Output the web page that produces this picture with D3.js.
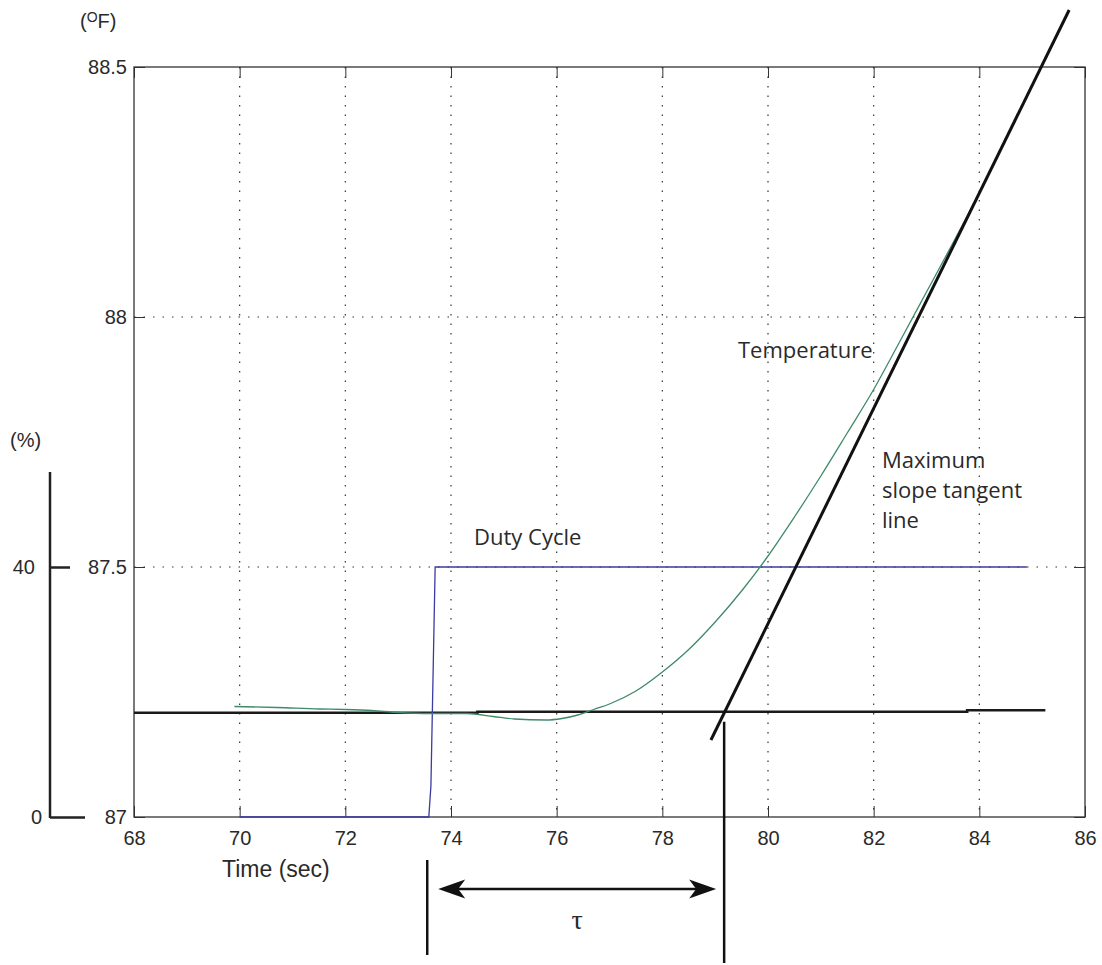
<!DOCTYPE html>
<meta charset="utf-8">
<style type="text/css">
	body { margin: 0; background: #ffffff; }
	svg text { fill: #2a2a2a; }
	.tick text { font-family: "Liberation Sans", Arial, sans-serif; font-size: 20px; }
	.note { font-family: "Open Sans", sans-serif; font-size: 22px; }
</style>
<body>
	<div id="chartCt"></div>
</body>

<script src="https://d3js.org/d3.v7.min.js"></script>
<script>
	// time axis (sec) and the two y scales (deg F left, duty % on the far left)
	const timeTicks = [68, 70, 72, 74, 76, 78, 80, 82, 84, 86];
	const tempTicks = [87, 87.5, 88, 88.5];
	const dutyTicks = [0, 40];

	// temperature response
	const tempTime = [69.9, 70.7, 71.5, 72.0, 72.5, 73.0, 73.6, 74.3, 74.8, 75.2, 75.8, 76.1, 76.4, 76.7, 77.0, 77.5, 78.0, 78.5, 79.0, 79.5, 80.0, 80.5, 81.0, 81.5, 82.0, 82.5, 83.0, 83.5, 83.9];
	const tempVal = [87.221, 87.219, 87.216, 87.215, 87.213, 87.209, 87.207, 87.207, 87.201, 87.196, 87.194, 87.197, 87.204, 87.215, 87.226, 87.252, 87.290, 87.335, 87.390, 87.452, 87.522, 87.600, 87.682, 87.768, 87.855, 87.952, 88.050, 88.148, 88.228];

	// duty cycle step (%)
	const dutyTime = [70, 73.58, 73.62, 73.7, 84.9];
	const dutyVal = [0, 0, 5, 40, 40];

	// initial steady state line
	const baseTime = [68, 74.5, 74.5, 83.77, 83.77, 85.25];
	const baseVal = [87.2086, 87.2086, 87.2105, 87.2105, 87.2135, 87.2135];

	// maximum slope tangent line
	const tanTime = [78.92, 85.7];
	const tanVal = [87.154, 88.614];

	// dead time markers
	const tauStart = 73.55;
	const tauEnd = 79.17;

	const width = 1102;
	const height = 965;
	const margin = { top: 67, left: 134, right: 17, bottom: 148 };

	const svg = d3.select("#chartCt")
		.append("svg")
		.attr("width", width)
		.attr("height", height);

	const x = d3.scaleLinear().domain([68, 86]).range([margin.left, width - margin.right]);
	const y = d3.scaleLinear().domain([87, 88.5]).range([height - margin.bottom, margin.top]);
	// 0..40 % sits on 87..87.5 F, the axis line runs a bit higher
	const yPct = d3.scaleLinear().domain([0, 40]).range([y(87), y(87.5)]);

	const grid = svg.append("g").attr("stroke", "#333").attr("stroke-width", 1.2).attr("stroke-dasharray", "1.5 8");
	grid.selectAll(".vg").data(timeTicks.slice(1, -1)).enter().append("line")
		.attr("x1", d => x(d)).attr("x2", d => x(d))
		.attr("y1", y(88.5)).attr("y2", y(87));
	grid.selectAll(".hg").data(tempTicks.slice(1, -1)).enter().append("line")
		.attr("x1", x(68)).attr("x2", x(86))
		.attr("y1", d => y(d)).attr("y2", d => y(d));

	// axes, ticks inside like matlab
	const axisStyle = g => {
		g.selectAll(".domain").remove();
		g.selectAll(".tick line").attr("stroke", "#333");
		g.selectAll(".tick text").attr("fill", "#2a2a2a");
	};
	svg.append("g").attr("transform", `translate(0,${y(87)})`)
		.call(d3.axisBottom(x).tickValues(timeTicks).tickFormat(d3.format("d")).tickSizeInner(-11).tickSizeOuter(0).tickPadding(14))
		.call(axisStyle);
	svg.append("g").attr("transform", `translate(0,${y(88.5)})`)
		.call(d3.axisTop(x).tickValues(timeTicks).tickFormat("").tickSizeInner(-11).tickSizeOuter(0))
		.call(axisStyle);
	svg.append("g").attr("transform", `translate(${x(68)},0)`)
		.call(d3.axisLeft(y).tickValues(tempTicks).tickFormat(d => d).tickSizeInner(-11).tickSizeOuter(0).tickPadding(7))
		.call(axisStyle);
	svg.append("g").attr("transform", `translate(${x(86)},0)`)
		.call(d3.axisRight(y).tickValues(tempTicks).tickFormat("").tickSizeInner(-11).tickSizeOuter(0))
		.call(axisStyle);

	svg.append("rect")
		.attr("x", x(68)).attr("y", y(88.5))
		.attr("width", x(86) - x(68)).attr("height", y(87) - y(88.5))
		.attr("fill", "none").attr("stroke", "#333").attr("stroke-width", 1.3);

	// duty cycle axis
	const pctAxis = svg.append("g").attr("transform", "translate(50,0)")
		.call(d3.axisLeft(yPct).tickValues(dutyTicks).tickSizeInner(-20).tickSizeOuter(0).tickPadding(15));
	pctAxis.select(".domain").remove();
	pctAxis.selectAll(".tick line").attr("stroke", "#222").attr("stroke-width", 2.5);
	pctAxis.selectAll(".tick").filter(d => d === 0).select("line").attr("x2", 35);
	pctAxis.selectAll(".tick").filter(d => d === 0).select("text").attr("x", -8);
	pctAxis.append("line")
		.attr("x1", 0).attr("x2", 0)
		.attr("y1", yPct(55.2)).attr("y2", yPct(0) + 1)
		.attr("stroke", "#222").attr("stroke-width", 2.5);

	const line = d3.line().x(d => x(d[0])).y(d => y(d[1]));

	svg.append("path")
		.datum(baseTime.map((t, i) => [t, baseVal[i]]))
		.attr("d", line)
		.attr("fill", "none").attr("stroke", "#1a1a1a").attr("stroke-width", 2.6);

	svg.append("path")
		.datum(dutyTime.map((t, i) => [t, dutyVal[i]]))
		.attr("d", d3.line().x(d => x(d[0])).y(d => yPct(d[1])))
		.attr("fill", "none").attr("stroke", "#3b3ba0").attr("stroke-width", 1.3);

	svg.append("path")
		.datum(tempTime.map((t, i) => [t, tempVal[i]]))
		.attr("d", d3.line().x(d => x(d[0])).y(d => y(d[1])).curve(d3.curveMonotoneX))
		.attr("fill", "none").attr("stroke", "#3f8a68").attr("stroke-width", 1.3);

	svg.append("path")
		.datum(tanTime.map((t, i) => [t, tanVal[i]]))
		.attr("d", line)
		.attr("fill", "none").attr("stroke", "#111").attr("stroke-width", 3);

	// tau markers and arrow
	svg.append("line")
		.attr("x1", x(tauStart)).attr("x2", x(tauStart))
		.attr("y1", 860).attr("y2", 955)
		.attr("stroke", "#111").attr("stroke-width", 2.5);
	svg.append("line")
		.attr("x1", x(tauEnd)).attr("x2", x(tauEnd))
		.attr("y1", y(87.2105) + 10).attr("y2", 963)
		.attr("stroke", "#111").attr("stroke-width", 2.5);

	const arrowY = 889;
	const ax1 = x(tauStart) + 11, ax2 = x(tauEnd) - 8;
	svg.append("line")
		.attr("x1", ax1 + 10).attr("x2", ax2 - 10)
		.attr("y1", arrowY).attr("y2", arrowY)
		.attr("stroke", "#111").attr("stroke-width", 2.5);
	const head = (tip, dir) => `M${tip},${arrowY} L${tip + dir * 27},${arrowY - 9.5} L${tip + dir * 20},${arrowY} L${tip + dir * 27},${arrowY + 9.5} Z`;
	svg.append("path").attr("d", head(ax1, 1)).attr("fill", "#111");
	svg.append("path").attr("d", head(ax2, -1)).attr("fill", "#111");
	svg.append("text")
		.attr("x", (ax1 + ax2) / 2).attr("y", 929)
		.attr("text-anchor", "middle")
		.style("font-family", "'Liberation Serif', 'DejaVu Serif', serif")
		.style("font-size", "28px")
		.text("τ");

	// labels
	const unitF = svg.append("text")
		.attr("x", 80).attr("y", 28)
		.style("font-family", "'Liberation Sans', Arial, sans-serif").style("font-size", "20px");
	unitF.append("tspan").text("(");
	unitF.append("tspan").attr("dy", -6).style("font-size", "14px").text("O");
	unitF.append("tspan").attr("dy", 6).text("F)");

	svg.append("text")
		.attr("x", 10).attr("y", 447)
		.style("font-family", "'Liberation Sans', Arial, sans-serif").style("font-size", "20px")
		.text("(%)");

	svg.append("text")
		.attr("x", 222).attr("y", 877)
		.style("font-family", "'Liberation Sans', Arial, sans-serif").style("font-size", "23px")
		.text("Time (sec)");

	svg.append("text").attr("class", "note")
		.attr("x", 474).attr("y", 545).text("Duty Cycle");
	svg.append("text").attr("class", "note")
		.attr("x", 738).attr("y", 358).text("Temperature");
	const tanLabel = svg.append("text").attr("class", "note").attr("x", 882).attr("y", 468);
	["Maximum", "slope tangent", "line"].forEach((s, i) => {
		tanLabel.append("tspan").attr("x", 882).attr("dy", i === 0 ? 0 : 30).text(s);
	});
</script>
